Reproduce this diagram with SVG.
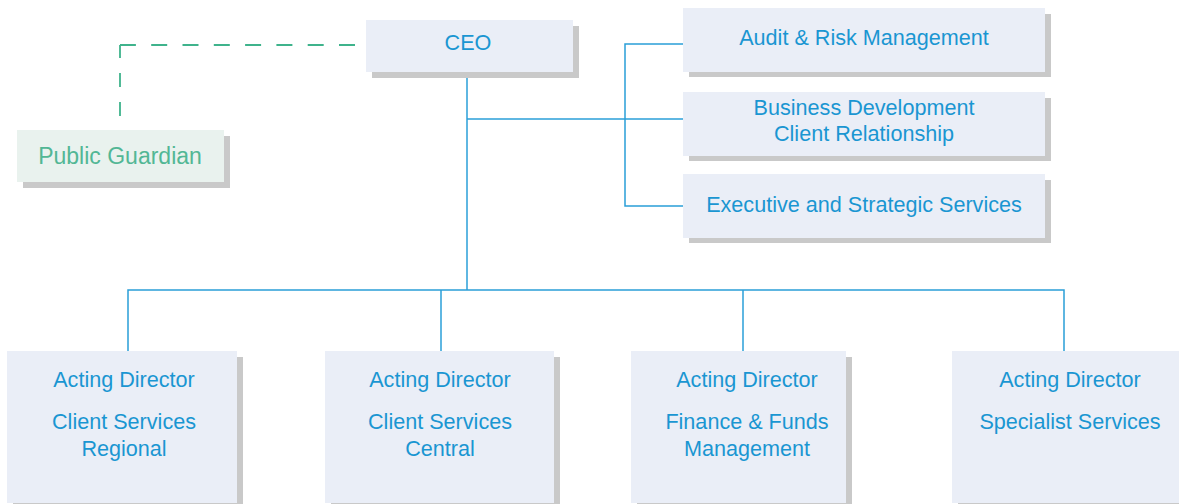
<svg xmlns="http://www.w3.org/2000/svg" width="1179" height="504" viewBox="0 0 1179 504">
  <style>
    .box { fill: #eaeef7; }
    .shadow { fill: #c9c9c9; }
    .pg { fill: #e9f2ee; }
    .lbl { font-family: "Liberation Sans", Arial, sans-serif; font-size: 21.6px; fill: #1a96d2; text-anchor: middle; }
    .lblg { font-family: "Liberation Sans", Arial, sans-serif; font-size: 23px; fill: #52b795; text-anchor: middle; }
    .line { fill: none; stroke: #2a9fd8; stroke-width: 1.5; }
    .dash { fill: none; stroke: #3fb38c; stroke-width: 1.8; }
  </style>
  <rect width="1179" height="504" fill="#ffffff"/>

  <g id="connectors">
    <path class="dash" d="M355,45 H120" stroke-dasharray="16 15.3"/>
    <path class="dash" d="M120,116 V45" stroke-dasharray="14 15"/>
    <path class="line" d="M467,77 V290"/>
    <path class="line" d="M467,119 H683"/>
    <path class="line" d="M683,44 H625 V206 H683"/>
    <path class="line" d="M128,351 V290 H1064 V351"/>
    <path class="line" d="M441,290 V351"/>
    <path class="line" d="M743,290 V351"/>
  </g>

  <g id="ceo">
    <rect class="shadow" x="372" y="26" width="207" height="52"/>
    <rect class="box" x="366" y="20" width="207" height="52"/>
    <text class="lbl" x="468" y="50">CEO</text>
  </g>

  <g id="public-guardian">
    <rect class="shadow" x="23" y="136" width="207" height="52"/>
    <rect class="pg" x="17" y="130" width="207" height="52"/>
    <text class="lblg" x="120" y="164">Public Guardian</text>
  </g>

  <g id="audit">
    <rect class="shadow" x="689" y="14" width="362" height="63"/>
    <rect class="box" x="683" y="8" width="362" height="64"/>
    <text class="lbl" x="864" y="45">Audit &amp; Risk Management</text>
  </g>

  <g id="business-development">
    <rect class="shadow" x="689" y="98" width="362" height="63"/>
    <rect class="box" x="683" y="92" width="362" height="64"/>
    <text class="lbl" x="864" y="115">Business Development</text>
    <text class="lbl" x="864" y="141">Client Relationship</text>
  </g>

  <g id="executive">
    <rect class="shadow" x="689" y="180" width="362" height="63"/>
    <rect class="box" x="683" y="174" width="362" height="64"/>
    <text class="lbl" x="864" y="212">Executive and Strategic Services</text>
  </g>

  <g id="client-services-regional">
    <rect class="shadow" x="13" y="357" width="230" height="152"/>
    <rect class="box" x="7" y="351" width="230" height="152"/>
    <text class="lbl" x="124" y="387">Acting Director</text>
    <text class="lbl" x="124" y="429">Client Services</text>
    <text class="lbl" x="124" y="456">Regional</text>
  </g>

  <g id="client-services-central">
    <rect class="shadow" x="331" y="357" width="229" height="152"/>
    <rect class="box" x="325" y="351" width="229" height="152"/>
    <text class="lbl" x="440" y="387">Acting Director</text>
    <text class="lbl" x="440" y="429">Client Services</text>
    <text class="lbl" x="440" y="456">Central</text>
  </g>

  <g id="finance-funds">
    <rect class="shadow" x="637" y="357" width="215" height="152"/>
    <rect class="box" x="631" y="351" width="215" height="152"/>
    <text class="lbl" x="747" y="387">Acting Director</text>
    <text class="lbl" x="747" y="429">Finance &amp; Funds</text>
    <text class="lbl" x="747" y="456">Management</text>
  </g>

  <g id="specialist-services">
    <rect class="shadow" x="958" y="357" width="230" height="152"/>
    <rect class="box" x="952" y="351" width="230" height="152"/>
    <text class="lbl" x="1070" y="387">Acting Director</text>
    <text class="lbl" x="1070" y="429">Specialist Services</text>
  </g>
</svg>
